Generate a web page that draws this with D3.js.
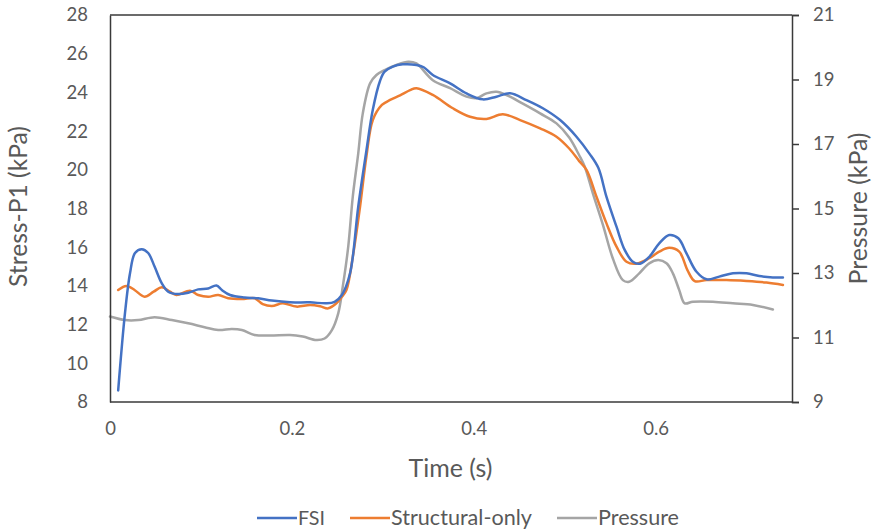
<!DOCTYPE html>
<html>
<head>
<meta charset="utf-8">
<script src="https://cdn.jsdelivr.net/npm/d3@7/dist/d3.min.js"></script>
<style>
  html, body { margin: 0; padding: 0; background: #fff; }
  svg { display: block; }
  text { font-family: Lato, "Open Sans", sans-serif; fill: #595959; }
</style>
</head>
<body>
<svg id="chart" width="876" height="532"></svg>
<script>
// Time samples (s) and values for each series
const fsiTime = [0.009, 0.0165, 0.022, 0.0275, 0.035, 0.042, 0.049, 0.057, 0.064, 0.075, 0.086, 0.097, 0.108, 0.117, 0.123, 0.132, 0.148, 0.163, 0.178, 0.198, 0.22, 0.238, 0.247, 0.255, 0.264, 0.273, 0.282, 0.289, 0.297, 0.302, 0.311, 0.322, 0.337, 0.345, 0.355, 0.374, 0.392, 0.41, 0.425, 0.44, 0.458, 0.476, 0.495, 0.513, 0.527, 0.537, 0.546, 0.557, 0.566, 0.575, 0.583, 0.593, 0.604, 0.615, 0.625, 0.634, 0.645, 0.656, 0.67, 0.685, 0.7, 0.714, 0.729, 0.74];
const fsiStress = [8.6, 12.6, 14.65, 15.7, 15.9, 15.7, 15.0, 14.13, 13.7, 13.58, 13.65, 13.82, 13.87, 14.02, 13.79, 13.53, 13.4, 13.36, 13.24, 13.15, 13.15, 13.1, 13.18, 13.53, 14.65, 18.1, 21.0, 23.1, 24.6, 25.07, 25.33, 25.45, 25.42, 25.3, 24.9, 24.47, 23.95, 23.64, 23.78, 23.95, 23.6, 23.18, 22.57, 21.71, 20.85, 20.1, 18.6, 17.06, 15.86, 15.25, 15.15, 15.5, 16.2, 16.63, 16.46, 15.68, 14.73, 14.34, 14.48, 14.65, 14.65, 14.51, 14.44, 14.44];

const structTime = [0.009, 0.018, 0.027, 0.038, 0.048, 0.057, 0.066, 0.073, 0.088, 0.097, 0.108, 0.119, 0.13, 0.145, 0.159, 0.168, 0.178, 0.19, 0.205, 0.22, 0.231, 0.24, 0.249, 0.255, 0.26, 0.267, 0.275, 0.282, 0.289, 0.299, 0.308, 0.319, 0.33, 0.337, 0.355, 0.377, 0.396, 0.414, 0.432, 0.451, 0.473, 0.491, 0.505, 0.516, 0.524, 0.535, 0.546, 0.557, 0.568, 0.579, 0.593, 0.604, 0.615, 0.626, 0.635, 0.643, 0.656, 0.678, 0.7, 0.722, 0.74];
const structStress = [13.79, 14.0, 13.79, 13.44, 13.7, 13.93, 13.7, 13.53, 13.75, 13.53, 13.44, 13.53, 13.36, 13.32, 13.36, 13.06, 12.96, 13.1, 12.93, 13.01, 12.95, 12.84, 13.1, 13.44, 13.79, 15.5, 18.1, 20.7, 22.57, 23.35, 23.61, 23.85, 24.12, 24.22, 23.87, 23.18, 22.74, 22.63, 22.87, 22.57, 22.14, 21.71, 21.1, 20.45, 20.0, 18.61, 17.23, 16.03, 15.25, 15.15, 15.43, 15.77, 15.97, 15.77, 14.82, 14.25, 14.3, 14.3, 14.25, 14.17, 14.05];

const pressTime = [0, 0.0165, 0.031, 0.049, 0.068, 0.086, 0.104, 0.119, 0.134, 0.145, 0.159, 0.176, 0.198, 0.212, 0.227, 0.236, 0.244, 0.251, 0.256, 0.262, 0.267, 0.273, 0.278, 0.286, 0.293, 0.302, 0.315, 0.328, 0.337, 0.341, 0.355, 0.374, 0.392, 0.403, 0.414, 0.425, 0.436, 0.454, 0.473, 0.491, 0.505, 0.516, 0.522, 0.531, 0.542, 0.553, 0.564, 0.571, 0.582, 0.593, 0.603, 0.612, 0.619, 0.626, 0.632, 0.641, 0.663, 0.685, 0.707, 0.729];
const pressure = [11.65, 11.54, 11.54, 11.63, 11.54, 11.44, 11.32, 11.23, 11.26, 11.23, 11.08, 11.06, 11.08, 11.03, 10.92, 10.97, 11.23, 11.75, 12.58, 13.82, 15.37, 16.71, 17.95, 18.88, 19.14, 19.29, 19.45, 19.55, 19.5, 19.4, 18.98, 18.73, 18.47, 18.42, 18.57, 18.62, 18.52, 18.25, 17.95, 17.64, 17.2, 16.65, 16.3, 15.47, 14.5, 13.45, 12.78, 12.73, 12.99, 13.3, 13.4, 13.3, 12.99, 12.47, 12.06, 12.11, 12.11, 12.06, 12.01, 11.87];

// Axis ticks
const timeTicks = [0, 0.2, 0.4, 0.6];
const stressTicks = [8, 10, 12, 14, 16, 18, 20, 22, 24, 26, 28];
const pressureTicks = [9, 11, 13, 15, 17, 19, 21];

const seriesNames = ["FSI", "Structural-only", "Pressure"];
const seriesColors = ["#4472C4", "#ED7D31", "#A5A5A5"];

const svg = d3.select("#chart");
const plotLeft = 110, plotRight = 792, plotTop = 15, plotBottom = 402;

const x = d3.scaleLinear().domain([0, 0.75]).range([plotLeft, plotRight]);
const yL = d3.scaleLinear().domain([8, 28]).range([plotBottom, plotTop]);
const yR = d3.scaleLinear().domain([9, 21]).range([plotBottom, plotTop]);

// Scale a text's font size so its rendered length equals the given width
function fitText(sel, width) {
  const node = sel.node();
  const size = parseFloat(sel.style("font-size"));
  const len = node.getComputedTextLength();
  if (len > 0) sel.style("font-size", (size * width / len).toFixed(2) + "px");
  return sel;
}

// Series lines
const makeLine = (yScale) => d3.line()
  .x(d => x(d[0])).y(d => yScale(d[1]))
  .curve(d3.curveCatmullRom.alpha(0.5));

const series = [
  { pts: d3.zip(fsiTime, fsiStress), scale: yL, color: seriesColors[0] },
  { pts: d3.zip(structTime, structStress), scale: yL, color: seriesColors[1] },
  { pts: d3.zip(pressTime, pressure), scale: yR, color: seriesColors[2] }
];

// Pressure first so the stress lines sit above it
[series[2], series[1], series[0]].forEach(s => {
  svg.append("path")
    .attr("d", makeLine(s.scale)(s.pts))
    .attr("fill", "none")
    .attr("stroke", s.color)
    .attr("stroke-width", 2.5)
    .attr("stroke-linejoin", "round")
    .attr("stroke-linecap", "round");
});

// Frame and axes
const axisColor = "#3a3a3a";
const frame = svg.append("g").attr("stroke", axisColor).attr("stroke-width", 1.5);
frame.append("line").attr("x1", plotLeft).attr("x2", plotRight).attr("y1", plotTop).attr("y2", plotTop);
frame.append("line").attr("x1", plotLeft).attr("x2", plotRight).attr("y1", plotBottom).attr("y2", plotBottom);

const fontSize = 18.5;

const gL = svg.append("g").attr("transform", `translate(${plotLeft},0)`)
  .call(d3.axisLeft(yL).tickValues(stressTicks).tickSize(0).tickPadding(22).tickFormat(d3.format("d")));
const gR = svg.append("g").attr("transform", `translate(${plotRight},0)`)
  .call(d3.axisRight(yR).tickValues(pressureTicks).tickSize(7).tickPadding(14).tickFormat(d3.format("d")));
const gB = svg.append("g").attr("transform", `translate(0,${plotBottom})`)
  .call(d3.axisBottom(x).tickValues(timeTicks).tickSize(0).tickPadding(20).tickFormat(d => d === 0 ? "0" : d3.format(".1f")(d)));

[gL, gR, gB].forEach(g => {
  g.select(".domain").attr("stroke", axisColor).attr("stroke-width", 1.5);
  g.selectAll(".tick line").attr("stroke", axisColor).attr("stroke-width", 1.5);
  g.selectAll(".tick text").attr("fill", "#595959")
    .style("font-size", fontSize + "px").style("font-family", "Lato, 'Open Sans', sans-serif");
});
gB.select(".domain").remove();

// Axis titles
fitText(svg.append("text").attr("x", 450.5).attr("y", 477)
  .attr("text-anchor", "middle").style("font-size", "22px").text("Time (s)"), 84);
fitText(svg.append("text").attr("transform", "translate(27,206.5) rotate(-90)")
  .attr("text-anchor", "middle").style("font-size", "22px").text("Stress-P1 (kPa)"), 161);
fitText(svg.append("text").attr("transform", "translate(867,208.5) rotate(-90)")
  .attr("text-anchor", "middle").style("font-size", "22px").text("Pressure (kPa)"), 152);

// Legend
const legendX = [257, 350, 557];
const legendWidth = [27, 141, 81];
const legend = svg.append("g");
seriesNames.forEach((name, i) => {
  legend.append("line")
    .attr("x1", legendX[i]).attr("x2", legendX[i] + 40)
    .attr("y1", 518).attr("y2", 518)
    .attr("stroke", seriesColors[i]).attr("stroke-width", 2.5);
  fitText(legend.append("text")
    .attr("x", legendX[i] + 41).attr("y", 525)
    .style("font-size", "21px").text(name), legendWidth[i]);
});
</script>
</body>
</html>
